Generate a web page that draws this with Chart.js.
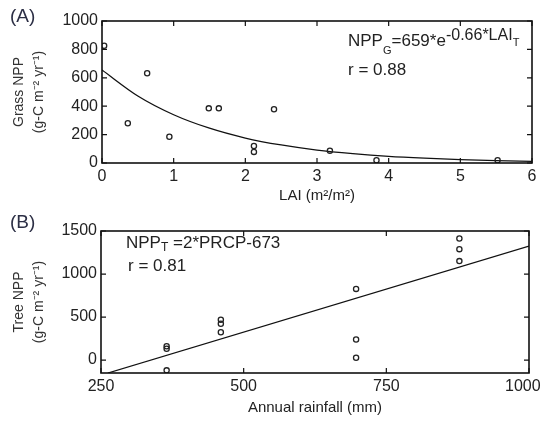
<!DOCTYPE html>
<html>
<head>
<meta charset="utf-8">
<script src="https://cdn.jsdelivr.net/npm/chart.js@4"></script>
<style>
body{margin:0;background:#fff;width:542px;height:422px;position:relative;overflow:hidden;font-family:"Liberation Sans",Arial,sans-serif;color:#222}
canvas{position:absolute;left:0}
.lbl{position:absolute;white-space:nowrap;font-size:17px;line-height:17px}
.sub{position:relative;font-size:11px;top:8px}
.sup{position:relative;font-size:16px;top:-6px}
.panel{position:absolute;font-size:19px;line-height:19px;color:#2c2f45}
</style>
</head>
<body>
<canvas id="chartA" width="542" height="205" style="top:0"></canvas>
<canvas id="chartB" width="542" height="217" style="top:205px"></canvas>

<div class="panel" style="left:10px;top:6px">(A)</div>
<div class="panel" style="left:10px;top:212px">(B)</div>

<div class="lbl" style="left:348px;top:32px">NPP<span class="sub">G</span>=659*e<span class="sup">-0.66*LAI<span style="font-size:11px;position:relative;top:6px">T</span></span></div>
<div class="lbl" style="left:348px;top:61px">r = 0.88</div>

<div class="lbl" style="left:126px;top:234px">NPP<span class="sub" style="top:3px;font-size:12px">T</span> =2*PRCP-673</div>
<div class="lbl" style="left:128px;top:257px">r = 0.81</div>

<script>
// panel A: grass NPP vs LAI
let laiObs=[0.03,0.36,0.63,0.94,1.49,1.63,2.12,2.12,2.40,3.18,3.83,5.52]
let grassNppObs=[826,280,632,185,385,385,120,78,378,87,19,19]
let laiFit=[0,0.5,1,1.5,2,2.5,3,3.5,4,4.5,5,5.5,6]
let grassNppFit=[655,472,340,245,176,127,91,66,47,34,24,17,12]
let ticksLai=[0,1,2,3,4,5,6]
let ticksGrass=[0,200,400,600,800,1000]

// panel B: tree NPP vs annual rainfall
let rainObs=[365,365,365,460,460,460,697,697,697,878,878,878]
let treeNppObs=[161,131,-119,469,423,323,827,239,27,1412,1289,1150]
let rainFit=[262,1000]
let treeNppFit=[-150,1325]
let ticksRain=[250,500,750,1000]
let ticksTree=[0,500,1000,1500]

Chart.defaults.font.family='"Liberation Sans", Arial, sans-serif'
Chart.defaults.color='#222'

let frame={
id:'frame',
afterDraw(chart){
let ctx=chart.ctx, a=chart.chartArea, x=chart.scales.x, y=chart.scales.y
ctx.save()
ctx.strokeStyle='#111'
ctx.lineWidth=1.2
ctx.beginPath()
x.ticks.forEach(t=>{
let px=x.getPixelForValue(t.value)
ctx.moveTo(px,a.bottom); ctx.lineTo(px,a.bottom-5)
ctx.moveTo(px,a.top); ctx.lineTo(px,a.top+5)
})
y.ticks.forEach(t=>{
let py=y.getPixelForValue(t.value)
ctx.moveTo(a.left,py); ctx.lineTo(a.left+5,py)
ctx.moveTo(a.right,py); ctx.lineTo(a.right-5,py)
})
ctx.stroke()
ctx.lineWidth=1.6
ctx.strokeRect(a.left,a.top,a.right-a.left,a.bottom-a.top)
ctx.restore()
}
}

function toPoints(xs,ys){
return xs.map((v,i)=>({x:v,y:ys[i]}))
}

function makeChart(id,cfg){
return new Chart(document.getElementById(id),{
type:'scatter',
data:{
datasets:[
{
data:toPoints(cfg.xObs,cfg.yObs),
pointRadius:2.6,
pointBorderWidth:1.3,
pointBorderColor:'#222',
pointBackgroundColor:'rgba(0,0,0,0)'
},
{
data:toPoints(cfg.xFit,cfg.yFit),
showLine:true,
pointRadius:0,
borderColor:'#111',
borderWidth:1.3,
tension:0.4,
cubicInterpolationMode:'monotone'
}
]
},
options:{
responsive:false,
animation:false,
events:[],
layout:{autoPadding:false,padding:{left:0,right:cfg.padRight,top:cfg.padTop,bottom:0}},
plugins:{legend:{display:false},tooltip:{enabled:false}},
scales:{
x:{
type:'linear',
min:cfg.xMin,max:cfg.xMax,
grid:{display:false,drawTicks:false},
border:{display:false},
afterBuildTicks:s=>{s.ticks=cfg.xTicks.map(v=>({value:v}))},
afterFit:s=>{s.height=cfg.xHeight;s.paddingLeft=0;s.paddingRight=0},
// last label on B sits a bit left of its tick so it stays inside the page
ticks:{font:{size:16},padding:4,maxRotation:0,color:'#222',callback:v=>v===cfg.xMax&&cfg.pullLast?v+'\u2002 ':String(v)},
title:{display:true,text:cfg.xTitle,font:{size:15},padding:{top:0,bottom:cfg.xTitlePad},color:'#222'}
},
y:{
type:'linear',
min:cfg.yMin,max:cfg.yMax,
grid:{display:false,drawTicks:false},
border:{display:false},
afterBuildTicks:s=>{s.ticks=cfg.yTicks.map(v=>({value:v}))},
afterFit:s=>{s.width=cfg.yWidth;s.paddingTop=0;s.paddingBottom=0},
ticks:{font:{size:16},padding:4,color:'#222',callback:v=>String(v)},
title:{display:true,text:cfg.yTitle,font:{size:14,lineHeight:1.45},padding:{top:9,bottom:0},color:'#333'}
}
}
},
plugins:[frame]
})
}

makeChart('chartA',{
xObs:laiObs,yObs:grassNppObs,xFit:laiFit,yFit:grassNppFit,
xMin:0,xMax:6,yMin:0,yMax:1000,xTicks:ticksLai,yTicks:ticksGrass,
xTitle:'LAI (m²/m²)',yTitle:['Grass NPP','(g-C m⁻² yr⁻¹)'],
padTop:21,padRight:10,xHeight:42,yWidth:102,xTitlePad:0,pullLast:false
})

makeChart('chartB',{
xObs:rainObs,yObs:treeNppObs,xFit:rainFit,yFit:treeNppFit,
xMin:250,xMax:1000,yMin:-150,yMax:1500,xTicks:ticksRain,yTicks:ticksTree,
xTitle:'Annual rainfall (mm)',yTitle:['Tree NPP','(g-C m⁻² yr⁻¹)'],
padTop:26,padRight:13,xHeight:49,yWidth:101,xTitlePad:5,pullLast:true
})
</script>
</body>
</html>
